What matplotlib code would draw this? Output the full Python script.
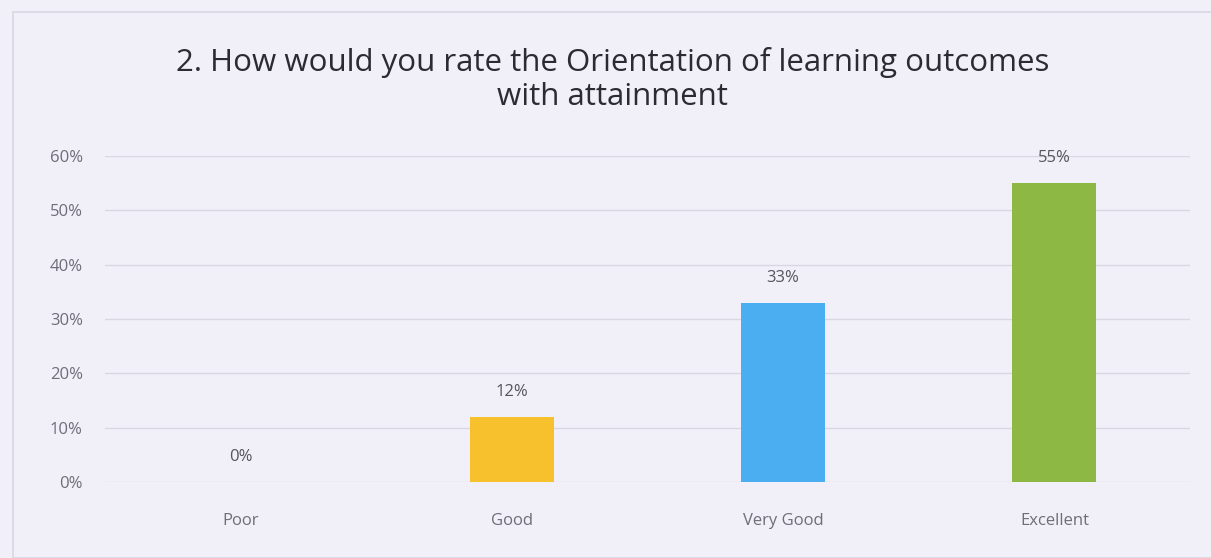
import numpy as np
import matplotlib.pyplot as plt
from matplotlib.patches import Rectangle
from matplotlib.ticker import FuncFormatter

# Survey results
categories = ["Poor", "Good", "Very Good", "Excellent"]
shares = [0.00, 0.12, 0.33, 0.55]
bar_colors = ["#f7c12e", "#f7c12e", "#4aaef0", "#8db843"]
y_ticks = [0.0, 0.1, 0.2, 0.3, 0.4, 0.5, 0.6]

BG = "#f1eff8"
TEXT_GRAY = "#6e6e78"

plt.rcParams["font.family"] = ["Open Sans", "DejaVu Sans"]

fig = plt.figure(figsize=(12.11, 5.58), dpi=100)
fig.patch.set_facecolor(BG)

# chart frame
fig.patches.append(Rectangle((13 / 1211, 0.0), 1.0, 1 - 12 / 558,
                             transform=fig.transFigure, fill=False,
                             edgecolor="#d8d6e0", linewidth=1.2))

ax = fig.add_axes([0.0867, 0.1362, 0.896, 0.5842])
ax.set_facecolor(BG)

x = np.arange(len(categories))
ax.bar(x, shares, width=0.31, color=bar_colors, zorder=3)

for xi, v in zip(x, shares):
    ax.annotate(f"{v:.0%}", (xi, v), xytext=(0, 18), textcoords="offset points",
                ha="center", va="center", fontsize=12, color="#55555d")

ax.set_xlim(-0.5, len(categories) - 0.5)
ax.set_ylim(0, 0.6)
ax.set_yticks(y_ticks)
ax.yaxis.set_major_formatter(FuncFormatter(lambda v, _: f"{v:.0%}"))
ax.set_xticks(x)
ax.set_xticklabels(categories)
ax.grid(axis="y", color="#d9d7e1", linewidth=1.0, zorder=0)
ax.tick_params(length=0, labelsize=12, labelcolor=TEXT_GRAY)
ax.tick_params(axis="x", pad=22)
ax.tick_params(axis="y", pad=16)
for s in ax.spines.values():
    s.set_visible(False)

fig.text(0.506, 0.857, "2. How would you rate the Orientation of learning outcomes\nwith attainment",
         ha="center", va="center", fontsize=22.5, color="#2b2b33", linespacing=1.18)

fig.savefig("out.png", dpi=100, facecolor=BG)
